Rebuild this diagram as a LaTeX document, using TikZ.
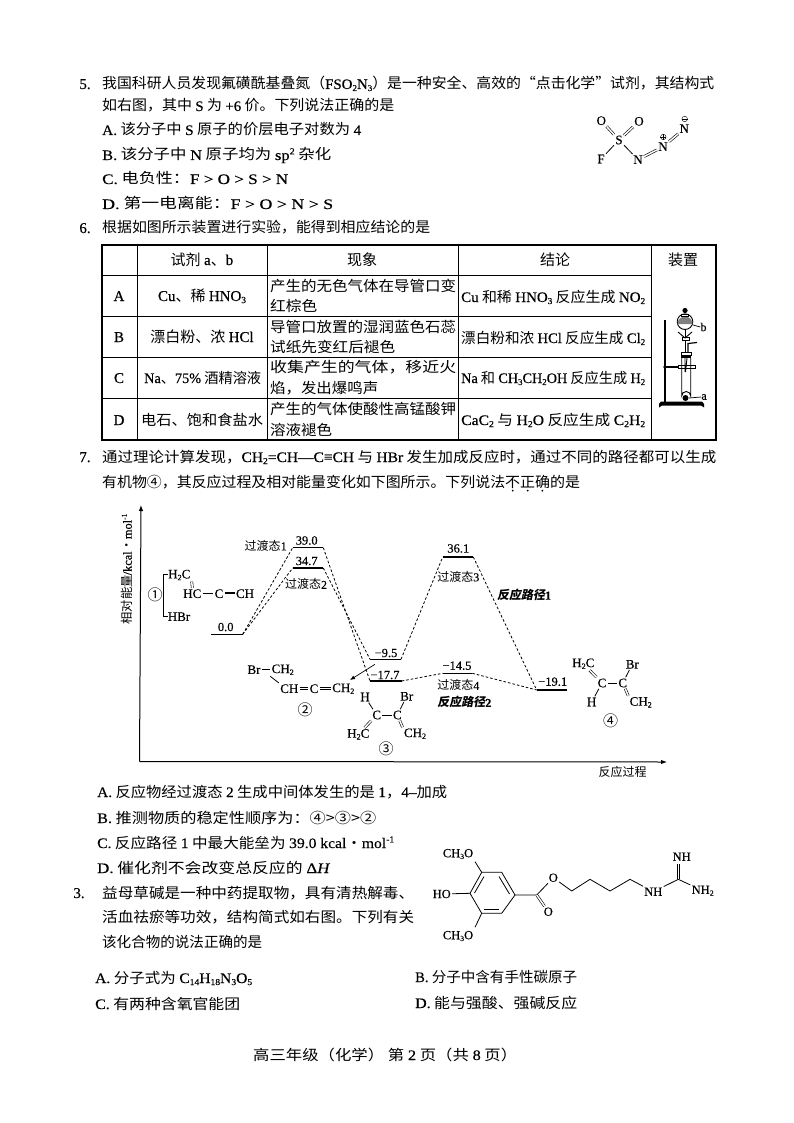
\documentclass[tikz,border=0pt]{standalone}
\usepackage{fontspec}
\usepackage{graphicx}
\setmainfont{Noto Sans CJK SC}
\newfontfamily\lfn[FakeBold=0.35]{Liberation Serif}
\newfontfamily\cjkob[FakeSlant=0.18]{Noto Sans CJK SC}
\usetikzlibrary{arrows.meta}
\newcommand{\T}[1]{{\lfn #1}}
\newcommand{\dn}[1]{\raisebox{-0.3ex}{\scalebox{0.62}{\lfn #1}}}
\newcommand{\up}[1]{\raisebox{0.85ex}{\scalebox{0.62}{\lfn #1}}}
\newcounter{tc}
\newcommand{\fs}[1]{\fontsize{#1}{#1}\selectfont}
% text line: x, y(centre), width, text
\newcommand{\tl}[4]{\stepcounter{tc}\node[anchor=base west,inner sep=0pt,font=\fs{14.5}] (t\thetc) at (#1,#2+5) {\resizebox{#3pt}{\height}{#4}};}
% centred text
\newcommand{\cl}[3]{\stepcounter{tc}\node[anchor=base,inner sep=0pt,font=\fs{15}] (t\thetc) at (#1,#2+5) {#3};}
% energy level: name, x1, x2, y, label x, label y, label
\newcommand{\lev}[7]{\coordinate (#1L) at (#2,#4);\coordinate (#1R) at (#3,#4);\draw[level] (#1L)--(#1R);\node[elab] (lab#1) at (#5,#6) {#7};}
\tikzset{
  atom/.style={inner sep=1.2pt,font=\lfn\fs{13}},
  satom/.style={inner sep=1.2pt,font=\lfn\fs{12.5}},
  bond/.style={line width=0.8pt},
  dbl/.style={line width=0.6pt,double,double distance=1.5pt},
  level/.style={line width=1.4pt},
  elab/.style={inner sep=0pt,font=\lfn\fs{12.5}},
  ts/.style={inner sep=0pt,font=\fs{12}},
  path2/.style={inner sep=0pt,font=\cjkob\bfseries\fs{12}},
  dsh/.style={line width=0.8pt,dash pattern=on 2.6pt off 2pt},
  grid/.style={line width=1pt},
  circ/.style={inner sep=0pt,font=\fs{15}},
  app/.style={line width=0.9pt}
}
\begin{document}
\begin{tikzpicture}[x=1pt,y=-1pt]
\useasboundingbox (0,0) rectangle (794,1123);
\fill[white] (0,0) rectangle (794,1123);
% Q5
\cl{85}{84}{\T{5.}}
\tl{102}{84}{612}{我国科研人员发现氟磺酰基叠氮（\T{FSO\dn{2}N\dn{3}}）是一种安全、高效的“点击化学”试剂，其结构式}
\tl{102}{106}{292}{如右图，其中 \T{S} 为 \T{+6} 价。下列说法正确的是}
\tl{102}{130}{259}{\T{A.}\ 该分子中 \T{S} 原子的价层电子对数为 \T{4}}
\tl{102}{155}{229}{\T{B.}\ 该分子中 \T{N} 原子均为 \T{sp\up{2}} 杂化}
\tl{102}{179}{186}{\T{C.}\ 电负性：\T{F > O > S > N}}
\tl{102}{204}{231}{\T{D.}\ 第一电离能：\T{F > O > N > S}}
% FSO2N3 structure
\node[atom] (o1) at (601.3,120.7) {O};
\node[atom] (o2) at (639,121.3) {O};
\node[atom] (s) at (619,140) {S};
\node[atom] (f) at (601,159) {F};
\node[atom] (n1) at (638,159.7) {N};
\node[atom] (n2) at (663,146.7) {N};
\node[atom] (n3) at (684.3,128.7) {N};
\draw[dbl] (o1)--(s);
\draw[dbl] (o2)--(s);
\draw[bond] (s)--(f);
\draw[bond] (s)--(n1);
\draw[dbl] (n1)--(n2);
\draw[dbl] (n2)--(n3);
\node[circle,draw,line width=0.4pt,inner sep=0pt,minimum size=5.5pt] (plus) at (663.3,137) {};
\draw[line width=0.4pt] (plus.west)--(plus.east) (plus.north)--(plus.south);
\node[circle,draw,line width=0.4pt,inner sep=0pt,minimum size=5.5pt] (minus) at (684.7,119) {};
\draw[line width=0.4pt] (minus.west)--(minus.east);
% Q6
\cl{85}{228}{\T{6.}}
\tl{102}{228}{328}{根据如图所示装置进行实验，能得到相应结论的是}
% table
\coordinate (tl) at (102,245); \coordinate (br) at (716,440);
\draw[line width=1.1pt] (tl) rectangle (br);
\foreach \xx in {137,267,458,651} \draw[grid] (\xx,245)--(\xx,440);
\foreach \yy in {275,316,357,398} \draw[grid] (102,\yy)--(651,\yy);
\cl{202}{260}{试剂 \T{a}、\T{b}}
\cl{362}{260}{现象}
\cl{555}{260}{结论}
\cl{683}{260}{装置}
\cl{119}{296}{\T{A}}
\cl{119}{337}{\T{B}}
\cl{119}{378}{\T{C}}
\cl{119}{420}{\T{D}}
\cl{202}{296}{\T{Cu}、稀 \T{HNO\dn{3}}}
\cl{202}{337}{漂白粉、浓 \T{HCl}}
\tl{144}{378}{117}{\T{Na}、\T{75\%} 酒精溶液}
\tl{141}{420}{122}{电石、饱和食盐水}
\tl{270}{286}{186}{产生的无色气体在导管口变}
\tl{270}{306}{47}{红棕色}
\tl{270}{327}{186}{导管口放置的湿润蓝色石蕊}
\tl{270}{347}{125}{试纸先变红后褪色}
\tl{270}{367}{186}{收集产生的气体，移近火}
\tl{270}{388}{108}{焰，发出爆鸣声}
\tl{270}{409}{186}{产生的气体使酸性高锰酸钾}
\tl{270}{430}{62}{溶液褪色}
\tl{461}{297}{184}{\T{Cu} 和稀 \T{HNO\dn{3}} 反应生成 \T{NO\dn{2}}}
\tl{461}{338}{184}{漂白粉和浓 \T{HCl} 反应生成 \T{Cl\dn{2}}}
\tl{461}{378}{184}{\T{Na} 和 \T{CH\dn{3}CH\dn{2}OH} 反应生成 \T{H\dn{2}}}
\tl{461}{420}{184}{\T{CaC\dn{2}} 与 \T{H\dn{2}O} 反应生成 \T{C\dn{2}H\dn{2}}}
% apparatus
\draw[line width=1.4pt] (665,320)--(665,402);
\fill (659,404)--(661,401.5)--(702,401.5)--(704,404)--(704,407.5)--(701,405.5)--(662,405.5)--(659,407.5)--cycle;
\draw[line width=1.2pt] (665,367)--(679,367);
\draw[fill=white,line width=0.8pt] (678,365.5) rectangle (695,368.5);
\fill (665,367) circle (1.8);
\draw[app] (681.7,358)--(681.7,396) arc[start angle=180,end angle=360,radius=4.5] -- (690.7,358);
\draw[app] (685,358)--(685,372) (687,358)--(685.5,372);
\fill (681,355)rectangle(691,358);
\draw[app] (681,352)rectangle(691,355);
\fill (685.5,398) circle (3);
\draw[app] (685,329)--(685,352);
\draw[line width=1.2pt] (688,352)--(688,343.5)--(697,342.5);
\draw[app,fill=white] (682,337)rectangle(689,340);
\draw[app] (678,332)--(685,338)--(692,332);
\draw[app] (685,321.7) circle (7.8);
\fill[gray] (677.5,324) arc[start angle=180,end angle=360,radius=7.5] -- cycle;
\fill (685,310.5) circle (2.6);
\draw[app] (681.5,314)rectangle(688.5,316);
\node[inner sep=0pt,font=\lfn\fs{12}] (lbb) at (703.5,327) {b};
\node[inner sep=0pt,font=\lfn\fs{12}] (lba) at (704,397) {a};
\draw[line width=0.7pt] (693,325)--(lbb.west);
\draw[line width=0.7pt] (689,398)--(lba.west);
% Q7
\cl{85}{457}{\T{7.}}
\tl{102}{457}{614}{通过理论计算发现，\T{CH\dn{2}=CH—C≡CH} 与 \T{HBr} 发生加成反应时，通过不同的路径都可以生成}
\tl{102}{482}{403}{有机物④，其反应过程及相对能量变化如下图所示。下列说法}
\tl{505}{482}{75}{不正确的是}
\foreach \xx in {512.7,527.7,542.3} \fill (\xx,490.7) circle (1);
% axes
\coordinate (org) at (139.5,761.5);
\coordinate (ytop) at (141,505);
\coordinate (xend) at (667,762);
\draw[line width=1pt,-{Latex[length=6pt,width=4.5pt]}] (org)--(ytop);
\draw[line width=1pt,-{Latex[length=6pt,width=4.5pt]}] (org)--(xend);
\node[rotate=90,inner sep=0pt,font=\fs{12.3}] (ylab) at (127,569) {相对能量\T{/kcal}・\T{mol\up{-1}}};
\node[ts] (xlab) at (622.7,772.3) {反应过程};
% levels
\lev{a}{211}{242.7}{634.3}{225.7}{627}{0.0}
\lev{b}{292.7}{323.3}{547.7}{306.7}{540.5}{39.0}
\lev{c}{292.7}{323.3}{568}{306.7}{561}{34.7}
\lev{d}{370}{401}{659.3}{386}{653}{−9.5}
\lev{e}{370}{401.7}{681}{385}{675}{−17.7}
\lev{f}{442.7}{473.3}{557}{458.3}{548.5}{36.1}
\lev{g}{442.7}{472.3}{673.3}{457}{665.7}{−14.5}
\lev{h}{536.7}{567.3}{690}{552.7}{681.7}{−19.1}
\draw[dsh] (aR)--(bL);
\draw[dsh] (aR)--(cL);
\draw[dsh] (bR)--(eL);
\draw[dsh] (cR)--(dL);
\draw[dsh] (dR)--(fL);
\draw[dsh] (fR)--(hL);
\draw[dsh] (eR)--(gL);
\draw[dsh] (gR)--(hL);
\node[ts] (ts1) at (265.7,545.7) {过渡态\T{1}};
\node[ts,fill=white,inner sep=0.5pt] (ts2) at (306,584.3) {过渡态\T{2}};
\node[ts,fill=white,inner sep=0.5pt] (ts3) at (458.3,576.7) {过渡态\T{3}};
\node[ts] (ts4) at (458.3,685.3) {过渡态\T{4}};
\node[path2] (p1) at (524,595) {反应路径\T{1}};
\node[path2] (p2) at (464.3,702.3) {反应路径\T{2}};
\coordinate (ars) at (375,664.3);
\coordinate (are) at (350,680);
\draw[line width=0.7pt,-{Latex[length=5pt,width=4pt]}] (ars)--(are);
% molecule 1
\node[circ] (n1c) at (155,594.3) {①};
\draw[line width=0.7pt] (168,574.3)--(163.3,574.3)--(163.3,616.7)--(168,616.7);
\draw[line width=0.7pt] (n1c.east)--(163.3,594.3);
\node[atom] (m1a) at (179.3,575) {H\dn{2}C};
\node[atom] (m1b) at (192.3,593.7) {HC};
\node[atom] (m1c) at (219,593.7) {C};
\node[atom] (m1d) at (245,593.7) {CH};
\node[atom] (m1e) at (179,616.7) {HBr};
\draw[dbl] (m1a.south east)--(m1b.north);
\draw[bond] (m1b)--(m1c);
\draw[line width=0.5pt,double,double distance=2pt] (m1c)--(m1d);
\draw[line width=0.5pt] (m1c)--(m1d);
% molecule 2
\node[atom] (m2a) at (254,669.7) {Br};
\node[atom] (m2b) at (282.7,669.7) {CH\dn{2}};
\node[atom] (m2c) at (289.3,688.7) {CH};
\node[atom] (m2d) at (314,688.7) {C};
\node[atom] (m2e) at (343.3,688.7) {CH\dn{2}};
\draw[bond] (m2a)--(m2b);
\draw[bond] (m2b.south west)--(m2c.north west);
\draw[dbl] (m2c)--(m2d);
\draw[dbl] (m2d)--(m2e);
\node[circ] (n2c) at (305,710) {②};
% molecule 3
\node[atom] (m3h) at (365,697) {H};
\node[atom] (m3br) at (406.7,696.3) {Br};
\node[atom] (m3c1) at (376.7,715) {C};
\node[atom] (m3c2) at (397.3,715) {C};
\node[atom] (m3d) at (358.3,734.3) {H\dn{2}C};
\node[atom] (m3e) at (415,733.7) {CH\dn{2}};
\draw[bond] (m3h)--(m3c1);
\draw[bond] (m3br)--(m3c2);
\draw[bond] (m3c1)--(m3c2);
\draw[dbl] (m3c1)--(m3d);
\draw[dbl] (m3c2)--(m3e.north west);
\node[circ] (n3c) at (386,748.3) {③};
% molecule 4
\node[atom] (m4a) at (583.3,663.7) {H\dn{2}C};
\node[atom] (m4br) at (632.3,664.3) {Br};
\node[atom] (m4c1) at (602,683) {C};
\node[atom] (m4c2) at (622.7,683) {C};
\node[atom] (m4h) at (591.7,702) {H};
\node[atom] (m4e) at (640.7,702.3) {CH\dn{2}};
\draw[dbl] (m4a)--(m4c1);
\draw[bond] (m4br)--(m4c2);
\draw[bond] (m4c1)--(m4c2);
\draw[bond] (m4c1)--(m4h);
\draw[dbl] (m4c2)--(m4e.north west);
\node[circ] (n4c) at (610.7,720.3) {④};
% Q7 options
\tl{97}{792}{350}{\T{A.}\ 反应物经过渡态 \T{2} 生成中间体发生的是 \T{1}，\T{4–}加成}
\tl{97}{818}{279}{\T{B.}\ 推测物质的稳定性顺序为：④>③>②}
\tl{97}{843}{297}{\T{C.}\ 反应路径 \T{1} 中最大能垒为 \T{39.0 kcal}・\T{mol\up{-1}}}
\tl{97}{868}{233}{\T{D.}\ 催化剂不会改变总反应的 \T{Δ\textit{H}}}
% Q8
\cl{79}{893}{\T{3.}}
\tl{102}{893}{312}{益母草碱是一种中药提取物，具有清热解毒、}
\tl{102}{917}{312}{活血祛瘀等功效，结构简式如右图。下列有关}
\tl{102}{942}{160}{该化合物的说法正确的是}
\tl{95}{978}{157}{\T{A.}\ 分子式为 \T{C\dn{14}H\dn{18}N\dn{3}O\dn{5}}}
\tl{415}{977}{162}{\T{B.}\ 分子中含有手性碳原子}
\tl{95}{1004}{145}{\T{C.}\ 有两种含氧官能团}
\tl{415}{1003}{162}{\T{D.}\ 能与强酸、强碱反应}
% leonurine
\coordinate (r1) at (481.7,872.3);
\coordinate (r2) at (501.7,872.3);
\coordinate (r3) at (515,895);
\coordinate (r4) at (501.7,913.3);
\coordinate (r5) at (481.7,913.3);
\coordinate (r6) at (470,893.3);
\draw[bond] (r1)--(r2)--(r3)--(r4)--(r5)--(r6)--cycle;
\draw[bond] (484,876.5)--(474.5,893);
\draw[bond] (499,876.5)--(509.5,894);
\draw[bond] (484,909)--(499,909);
\node[satom] (ome1) at (458,854) {CH\dn{3}O};
\node[satom] (ho) at (441.7,894) {HO};
\node[satom] (ome2) at (458,936) {CH\dn{3}O};
\node[satom] (oe) at (553.3,877.7) {O};
\node[satom] (oc) at (548.3,911.7) {O};
\coordinate (cc) at (536.7,895);
\coordinate (o1b) at (475,861.7);
\coordinate (o2b) at (475,927.3);
\coordinate (c1) at (571.7,891);
\coordinate (c2) at (590,879.3);
\coordinate (c3) at (610,891);
\coordinate (c4) at (630,879.3);
\node[satom] (nh1) at (653.3,891.7) {NH};
\coordinate (gc) at (678.3,879.3);
\node[satom] (nh2) at (681.7,856.7) {NH};
\node[satom] (nh3) at (702.7,890.7) {NH\dn{2}};
\coordinate (nh2b) at (678.3,863.5);
\draw[bond] (r1)--(o1b);
\draw[bond] (r5)--(o2b);
\draw[bond] (r6)--(ho);
\draw[bond] (r3)--(cc)--(oe);
\draw[dbl] (cc)--(oc);
\draw[bond] (oe)--(c1)--(c2)--(c3)--(c4)--(nh1)--(gc)--(nh3);
\draw[dbl] (gc)--(nh2b);
% footer
\tl{253}{1055}{264}{高三年级（化学） 第 \T{2} 页（共 \T{8} 页）}
\end{tikzpicture}
\end{document}
